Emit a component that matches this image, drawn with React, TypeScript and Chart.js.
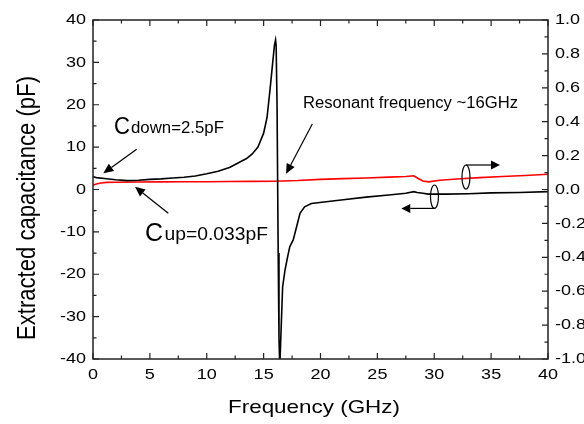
import React, { useEffect, useRef } from "react";
import { Chart, registerables } from "chart.js";
Chart.register(...registerables);

// ---- data ----
const freqBlack = [0, 0.3, 1, 2, 3, 4, 5, 6, 7, 8, 9, 10, 11, 12, 12.5, 13, 13.5, 14, 14.5, 15, 15.3, 15.56, 15.8, 15.95, 16.05, 16.1, 16.18, 16.28, 16.35, 16.42, 16.55, 16.67, 16.88, 17.1, 17.3, 17.6, 17.9, 18.2, 18.6, 19.2, 20.5, 22, 24, 26, 27.5, 28.2, 28.5, 29, 29.5, 31, 33, 35, 37.5, 40];
const capBlack = [3.0, 2.8, 2.6, 2.3, 2.1, 2.2, 2.4, 2.5, 2.7, 2.9, 3.2, 3.7, 4.3, 5.2, 5.9, 6.6, 7.3, 8.4, 10.0, 13.3, 17.0, 23.5, 30.0, 34.0, 35.3, 34.0, 20.0, -15.0, -35.0, -42.0, -32.0, -23.0, -19.0, -16.0, -13.5, -11.9, -8.8, -5.6, -4.1, -3.3, -2.9, -2.4, -1.8, -1.3, -0.9, -0.5, -0.7, -0.9, -1.1, -1.1, -1.0, -0.8, -0.7, -0.5];

const freqRed = [0, 0.3, 0.7, 1.2, 2, 4, 6, 8, 10, 12, 14, 16, 18, 20, 22, 24, 26, 27.5, 28.2, 28.6, 29, 29.5, 30.5, 32, 34, 36, 38, 40];
const valRed = [0.026, 0.032, 0.038, 0.042, 0.043, 0.044, 0.045, 0.046, 0.046, 0.047, 0.048, 0.049, 0.053, 0.060, 0.064, 0.068, 0.073, 0.077, 0.081, 0.065, 0.050, 0.045, 0.055, 0.062, 0.070, 0.077, 0.083, 0.090];

const xTicks = [0, 5, 10, 15, 20, 25, 30, 35, 40];
const yLeftTicks = [-40, -30, -20, -10, 0, 10, 20, 30, 40];
const yRightTicks = [-1.0, -0.8, -0.6, -0.4, -0.2, 0.0, 0.2, 0.4, 0.6, 0.8, 1.0];

const xTitle = "Frequency (GHz)";
const yTitle = "Extracted capacitance (pF)";
const noteDownBig = "C";
const noteDownSmall = "down=2.5pF";
const noteUpBig = "C";
const noteUpSmall = "up=0.033pF";
const noteRes = "Resonant frequency ~16GHz";

const FONT = '"Liberation Sans", Arial, sans-serif';

function drawText(
  ctx: CanvasRenderingContext2D,
  s: string,
  x: number,
  y: number,
  size: number,
  o: { width?: number; sx?: number; sy?: number; align?: CanvasTextAlign; base?: CanvasTextBaseline; rot?: number } = {}
) {
  ctx.save();
  ctx.translate(x, y);
  if (o.rot) ctx.rotate(o.rot);
  ctx.font = `${size}px ${FONT}`;
  const w = ctx.measureText(s).width;
  const sx = o.width ? o.width / w : o.sx || 1;
  ctx.scale(sx, o.sy || 1);
  ctx.textAlign = o.align || "left";
  ctx.textBaseline = o.base || "alphabetic";
  ctx.fillStyle = "#000";
  ctx.fillText(s, 0, 0);
  ctx.restore();
}

function arrow(ctx: CanvasRenderingContext2D, x1: number, y1: number, x2: number, y2: number, head = 10, half = 4.5) {
  const dx = x2 - x1, dy = y2 - y1;
  const len = Math.hypot(dx, dy);
  const ux = dx / len, uy = dy / len;
  const bx = x2 - ux * head, by = y2 - uy * head;
  ctx.beginPath();
  ctx.moveTo(x1, y1);
  ctx.lineTo(bx, by);
  ctx.stroke();
  ctx.beginPath();
  ctx.moveTo(x2, y2);
  ctx.lineTo(bx - uy * half, by + ux * half);
  ctx.lineTo(bx + uy * half, by - ux * half);
  ctx.closePath();
  ctx.fill();
}

const decorPlugin = {
  id: "decor",
  afterDraw(chart: any) {
    const ctx: CanvasRenderingContext2D = chart.ctx;
    const { left, right, top, bottom } = chart.chartArea;
    const xs = chart.scales.x, yl = chart.scales.y, yr = chart.scales.y1;
    const P = (fx: number, fy: number) => [xs.getPixelForValue(fx), yl.getPixelForValue(fy)];

    ctx.save();
    ctx.strokeStyle = "#222";
    ctx.fillStyle = "#000";
    ctx.lineWidth = 1.5;
    ctx.strokeRect(left, top, right - left, bottom - top);

    const MAJ = 6, MIN = 3.5;
    ctx.lineWidth = 1.2;
    ctx.beginPath();
    // x ticks (bottom and top, inward)
    for (let i = 0; i < xTicks.length; i++) {
      const px = xs.getPixelForValue(xTicks[i]);
      ctx.moveTo(px, bottom); ctx.lineTo(px, bottom - MAJ);
      ctx.moveTo(px, top); ctx.lineTo(px, top + MAJ);
      if (i < xTicks.length - 1) {
        const m = xs.getPixelForValue((xTicks[i] + xTicks[i + 1]) / 2);
        ctx.moveTo(m, bottom); ctx.lineTo(m, bottom - MIN);
        ctx.moveTo(m, top); ctx.lineTo(m, top + MIN);
      }
    }
    for (let i = 0; i < yLeftTicks.length; i++) {
      const py = yl.getPixelForValue(yLeftTicks[i]);
      ctx.moveTo(left, py); ctx.lineTo(left + MAJ, py);
      if (i < yLeftTicks.length - 1) {
        const m = yl.getPixelForValue((yLeftTicks[i] + yLeftTicks[i + 1]) / 2);
        ctx.moveTo(left, m); ctx.lineTo(left + MIN, m);
      }
    }
    for (let i = 0; i < yRightTicks.length; i++) {
      const py = yr.getPixelForValue(yRightTicks[i]);
      ctx.moveTo(right, py); ctx.lineTo(right - MAJ, py);
      if (i < yRightTicks.length - 1) {
        const m = yr.getPixelForValue((yRightTicks[i] + yRightTicks[i + 1]) / 2);
        ctx.moveTo(right, m); ctx.lineTo(right - MIN, m);
      }
    }
    ctx.stroke();

    // tick labels
    for (const v of xTicks) drawText(ctx, String(v), xs.getPixelForValue(v), bottom + 15.5, 15, { sx: 1.2, align: "center", base: "middle" });
    for (const v of yLeftTicks) drawText(ctx, String(v), left - 7, yl.getPixelForValue(v), 15, { sx: 1.2, align: "right", base: "middle" });
    for (const v of yRightTicks) drawText(ctx, v.toFixed(1), right + 7, yr.getPixelForValue(v), 15, { sx: 1.2, align: "left", base: "middle" });

    // axis titles
    drawText(ctx, xTitle, (left + right) / 2 - 6.5, bottom + 54, 18.6, { width: 172, align: "center" });
    drawText(ctx, yTitle, 35, (top + bottom) / 2 + 18.5, 22, { width: 264, sy: 1.2, align: "center", rot: -Math.PI / 2 });

    // annotations (anchored in data coordinates)
    let p = P(1.85, 13.1);
    drawText(ctx, noteDownBig, p[0], p[1], 23.5, { width: 16 });
    p = P(3.34, 13.22);
    drawText(ctx, noteDownSmall, p[0], p[1], 16, { width: 93 });
    p = P(4.57, -12.27);
    drawText(ctx, noteUpBig, p[0], p[1], 25.5, { width: 18 });
    p = P(6.29, -11.92);
    drawText(ctx, noteUpSmall, p[0], p[1], 18.5, { width: 103.5 });
    p = P(27.91, 19.16);
    drawText(ctx, noteRes, p[0], p[1], 16, { width: 215, align: "center" });

    ctx.strokeStyle = "#000";
    ctx.lineWidth = 1.2;
    let a = P(3.84, 9.49), b = P(0.905, 3.82);
    arrow(ctx, a[0], a[1], b[0], b[1]);
    a = P(6.62, -5.62); b = P(3.69, 0.66);
    arrow(ctx, a[0], a[1], b[0], b[1]);
    a = P(19.28, 15.46); b = P(16.97, 3.7);
    arrow(ctx, a[0], a[1], b[0], b[1]);

    // ellipse + arrow to the right axis (red curve)
    const e1 = P(32.79, 2.95);
    ctx.beginPath();
    ctx.ellipse(e1[0], e1[1], 4, 12, 0, 0, Math.PI * 2);
    ctx.stroke();
    b = P(35.78, 0);
    arrow(ctx, e1[0], e1[1] - 12, b[0], e1[1] - 12, 9, 4.5);
    // ellipse + arrow to the left axis (black curve)
    const e2 = P(30.02, -1.7);
    ctx.beginPath();
    ctx.ellipse(e2[0], e2[1], 4, 11.7, 0, 0, Math.PI * 2);
    ctx.stroke();
    b = P(27.1, 0);
    arrow(ctx, e2[0], e2[1] + 11.7, b[0], e2[1] + 11.7, 9, 4.5);

    ctx.restore();
  },
};

export default function App() {
  const ref = useRef<HTMLCanvasElement | null>(null);
  useEffect(() => {
    if (!ref.current) return;
    const chart = new Chart(ref.current, {
      type: "line",
      data: {
        datasets: [
          {
            label: "Capacitance",
            data: freqBlack.map((f, i) => ({ x: f, y: capBlack[i] })),
            borderColor: "#000",
            borderWidth: 1.6,
            pointRadius: 0,
            tension: 0,
            yAxisID: "y",
          },
          {
            label: "Right",
            data: freqRed.map((f, i) => ({ x: f, y: valRed[i] })),
            borderColor: "#ff0000",
            borderWidth: 1.6,
            pointRadius: 0,
            tension: 0,
            yAxisID: "y1",
          },
        ],
      },
      options: {
        animation: false,
        responsive: false,
        layout: { padding: { left: 93, right: 36, top: 20, bottom: 65 } },
        plugins: { legend: { display: false }, tooltip: { enabled: false } },
        scales: {
          x: { type: "linear", min: 0, max: 40, display: false },
          y: { type: "linear", min: -40, max: 40, display: false },
          y1: { type: "linear", min: -1, max: 1, display: false, position: "right" },
        },
      },
      plugins: [decorPlugin],
    });
    return () => chart.destroy();
  }, []);
  return (
    <div style={{ position: "absolute", left: 0, top: 0, width: 584, height: 424, background: "#fff" }}>
      <canvas ref={ref} width={584} height={424} style={{ width: 584, height: 424, display: "block" }} />
    </div>
  );
}
